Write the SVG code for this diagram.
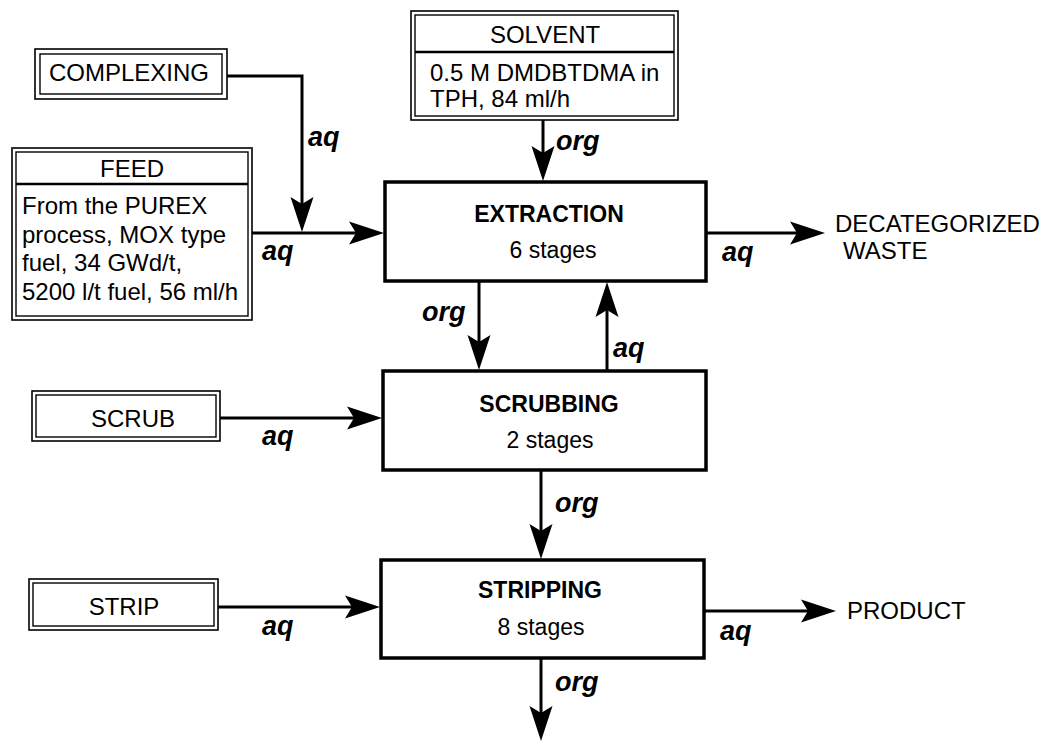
<svg xmlns="http://www.w3.org/2000/svg" width="1048" height="742" viewBox="0 0 1048 742">
  <style>
    text { font-family: "Liberation Sans", Arial, sans-serif; fill: #000; }
    .in { font-size: 24px; }
    .pt { font-size: 23px; font-weight: bold; text-anchor: middle; }
    .ps { font-size: 23px; text-anchor: middle; }
    .lbl { font-size: 27px; font-weight: bold; font-style: italic; }
    .mid { text-anchor: middle; }
    .dbo { fill: #fff; stroke: #000; stroke-width: 1.6; }
    .dbi { fill: none; stroke: #000; stroke-width: 1.4; }
    .proc { fill: #fff; stroke: #000; stroke-width: 3.5; }
    .sep { stroke: #000; stroke-width: 2.5; }
    .con { fill: none; stroke: #000; stroke-width: 3; marker-end: url(#ah); }
  </style>
  <defs>
    <marker id="ah" markerUnits="userSpaceOnUse" markerWidth="36" markerHeight="24" refX="24" refY="12" orient="auto" overflow="visible">
      <path d="M0,0.5 L35,12 L0,23.5 L7,12 Z" fill="#000"/>
    </marker>
  </defs>
  <rect width="1048" height="742" fill="#fff"/>

  <g id="connectors">
    <path class="con" d="M227,76 H302 V221"/>
    <path class="con" d="M252,233 H373"/>
    <path class="con" d="M543,120 V170"/>
    <path class="con" d="M706,233 H814"/>
    <path class="con" d="M479,281 V359"/>
    <path class="con" d="M607,371 V293"/>
    <path class="con" d="M220,418 H371"/>
    <path class="con" d="M541,470 V548"/>
    <path class="con" d="M218,607 H369"/>
    <path class="con" d="M704,611 H825"/>
    <path class="con" d="M541,658 V730"/>
  </g>

  <g id="labels">
    <text class="lbl" x="308" y="146">aq</text>
    <text class="lbl" x="262" y="260">aq</text>
    <text class="lbl" x="556" y="150">org</text>
    <text class="lbl" x="722" y="261">aq</text>
    <text class="lbl" x="422" y="321">org</text>
    <text class="lbl" x="613" y="357">aq</text>
    <text class="lbl" x="262" y="445">aq</text>
    <text class="lbl" x="555" y="512">org</text>
    <text class="lbl" x="262" y="635">aq</text>
    <text class="lbl" x="720" y="640">aq</text>
    <text class="lbl" x="555" y="691">org</text>
  </g>

  <g id="complexing">
    <rect class="dbo" x="35" y="49" width="192" height="50"/>
    <rect class="dbi" x="40" y="54" width="182" height="40"/>
    <text class="in mid" x="129" y="81" font-size="25">COMPLEXING</text>
  </g>

  <g id="feed">
    <rect class="dbo" x="12" y="148" width="240" height="172"/>
    <rect class="dbi" x="16" y="152" width="232" height="164"/>
    <line class="sep" x1="16" y1="184" x2="248" y2="184"/>
    <text class="in mid" x="132" y="177">FEED</text>
    <text class="in" x="22" y="214">From the PUREX</text>
    <text class="in" x="22" y="243">process, MOX type</text>
    <text class="in" x="22" y="271">fuel, 34 GWd/t,</text>
    <text class="in" x="22" y="300">5200 l/t fuel, 56 ml/h</text>
  </g>

  <g id="solvent">
    <rect class="dbo" x="411" y="11" width="267" height="109"/>
    <rect class="dbi" x="415" y="15" width="259" height="101"/>
    <line class="sep" x1="415" y1="52" x2="674" y2="52"/>
    <text class="in mid" x="545" y="43">SOLVENT</text>
    <text class="in" x="430" y="81">0.5 M DMDBTDMA in</text>
    <text class="in" x="430" y="107">TPH, 84 ml/h</text>
  </g>

  <g id="extraction">
    <rect class="proc" x="385" y="182" width="321" height="99"/>
    <text class="pt" x="549" y="222">EXTRACTION</text>
    <text class="ps" x="553" y="258">6 stages</text>
  </g>

  <g id="waste">
    <text class="in" x="835" y="232">DECATEGORIZED</text>
    <text class="in" x="843" y="259">WASTE</text>
  </g>

  <g id="scrub">
    <rect class="dbo" x="32" y="391" width="188" height="50"/>
    <rect class="dbi" x="36" y="395" width="180" height="42"/>
    <text class="in mid" x="133" y="427" font-size="25">SCRUB</text>
  </g>

  <g id="scrubbing">
    <rect class="proc" x="383" y="371" width="323" height="99"/>
    <text class="pt" x="549" y="412">SCRUBBING</text>
    <text class="ps" x="550" y="448">2 stages</text>
  </g>

  <g id="strip">
    <rect class="dbo" x="29" y="579" width="189" height="51"/>
    <rect class="dbi" x="33" y="583" width="181" height="43"/>
    <text class="in mid" x="124" y="615" font-size="25">STRIP</text>
  </g>

  <g id="stripping">
    <rect class="proc" x="381" y="560" width="323" height="98"/>
    <text class="pt" x="540" y="598">STRIPPING</text>
    <text class="ps" x="541" y="635">8 stages</text>
  </g>

  <g id="product">
    <text class="in" x="847" y="619">PRODUCT</text>
  </g>
</svg>
